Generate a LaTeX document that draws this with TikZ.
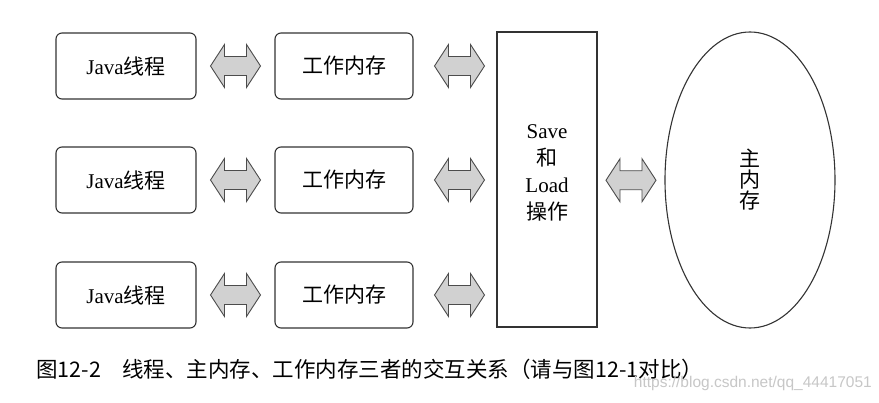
\documentclass[tikz,border=0pt]{standalone}
\usepackage{fontspec}
\setmainfont{Liberation Serif}
\setsansfont{Liberation Sans}
\newfontfamily\cjk{Noto Sans CJK SC}
\usetikzlibrary{calc,shapes.geometric}
\begin{document}
\begin{tikzpicture}[x=1pt,y=1pt,
  outl/.style={draw=black!80, line width=1.1pt},
  rbox/.style={outl, rounded corners=6pt, minimum width=#1, minimum height=66pt, inner sep=0pt,
    font=\fontsize{21}{25}\selectfont},
  lbl/.style={inner sep=0pt, align=center, font=\fontsize{21}{27}\selectfont},
  dblarr/.pic={\path[fill=black!18, draw=black!70, line width=0.9pt, line join=miter]
    (-25,0) -- (-11,21.5) -- (-11,9.5) -- (11,9.5) -- (11,21.5) -- (25,0)
    -- (11,-21.5) -- (11,-9.5) -- (-11,-9.5) -- (-11,-21.5) -- cycle;}
]
\useasboundingbox (0,0) rectangle (879,402);
\fill[white] (0,0) rectangle (879,402);

% left thread boxes
\node[rbox=140pt] (j1) at (126,336) {Java{\cjk 线程}};
\node[rbox=140pt] (j2) at (126,222) {Java{\cjk 线程}};
\node[rbox=140pt] (j3) at (126,107) {Java{\cjk 线程}};
% working memory boxes
\node[rbox=138pt] (w1) at (344,336) {\cjk 工作内存};
\node[rbox=138pt] (w2) at (344,222) {\cjk 工作内存};
\node[rbox=138pt] (w3) at (344,107) {\cjk 工作内存};
% save/load box
\node[outl, minimum width=100pt, minimum height=295pt, inner sep=0pt] (save) at (547,222.5) {};
\node[lbl] (savetxt) at (547,229.5) {Save\\{\cjk 和}\\Load\\{\cjk 操作}};
% main memory
\node[outl, ellipse, minimum width=170pt, minimum height=296pt, inner sep=0pt] (main) at (750,222) {};
\node[lbl, font=\cjk\fontsize{21}{21}\selectfont] (maintxt) at (main.center) {主\\内\\存};

% block arrows
\foreach \i in {1,2,3}{
  \pic at ($(j\i.east)!0.5!(w\i.west)$) {dblarr};
  \pic at ($(w\i.east)!0.5!(save.west|-w\i.east)+(4.5,0)$) {dblarr};
}
\pic at ($(save.east)!0.5!(main.west)+(0,-0.5)$) {dblarr};

% caption
\node[anchor=west, inner sep=0pt, font=\cjk\fontsize{21.5}{24}\selectfont] (cap) at (36,33)
  {图12-2\hspace{1em}线程、主内存、工作内存三者的交互关系（请与图12-1对比）};
\node[anchor=east, inner sep=0pt, text=black!22, font=\sffamily\fontsize{15.5}{18}\selectfont] (wm) at (872,19)
  {https://blog.csdn.net/qq\_44417051};
\end{tikzpicture}
\end{document}
